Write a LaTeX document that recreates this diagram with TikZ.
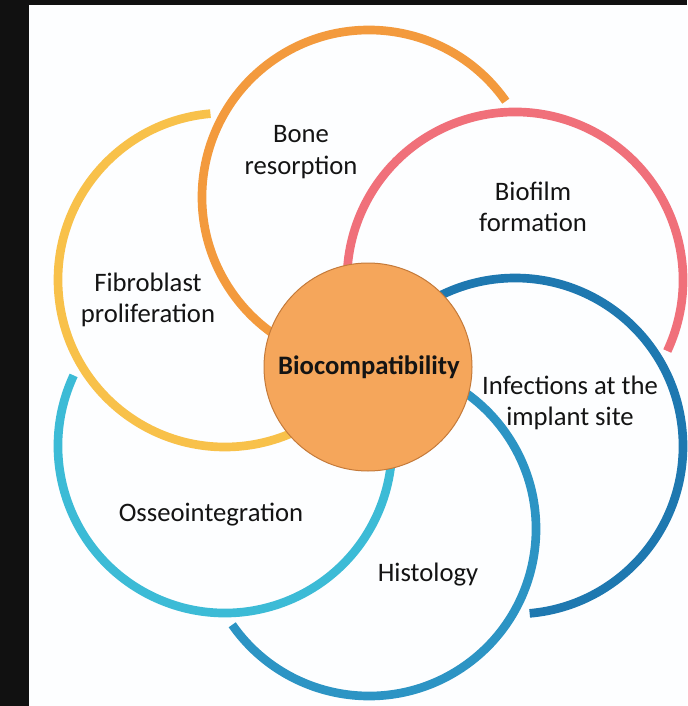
\documentclass[tikz,border=0pt]{standalone}
\usepackage{fontspec}
\setmainfont{Carlito}
\usepackage{tikz}

\begin{document}
\begin{tikzpicture}[x=0.75pt,y=0.75pt,yscale=-1,xscale=1,
  petal/.style={line width=6.5pt},
  petaltext/.style={font=\fontsize{20}{23.7}\selectfont, align=center, text={rgb, 255:red, 20; green, 20; blue, 20 }}]
%set diagram left start at 0, and has height of 706
\useasboundingbox (0,0) rectangle (687,706);

%Background and frame
\fill [color={rgb, 255:red, 253; green, 254; blue, 255 }] (0,0) rectangle (687,706);
\fill [color={rgb, 255:red, 17; green, 17; blue, 17 }] (0,0) rectangle (29,706);
\fill [color={rgb, 255:red, 17; green, 17; blue, 17 }] (0,0) rectangle (687,5);

%Shape: Arc (bone resorption)
\draw [petal, color={rgb, 255:red, 243; green, 154; blue, 61 }] (369,197) ++(-35:167) arc [start angle=-35, end angle=-270, radius=167] ;
%Shape: Arc (biofilm)
\draw [petal, color={rgb, 255:red, 240; green, 112; blue, 122 }] (515,280) ++(25:168) arc [start angle=25, end angle=-210, radius=168] ;
%Shape: Arc (infections)
\draw [petal, color={rgb, 255:red, 30; green, 120; blue, 176 }] (515,446) ++(85:168) arc [start angle=85, end angle=-150, radius=168] ;
%Shape: Arc (histology)
\draw [petal, color={rgb, 255:red, 44; green, 148; blue, 196 }] (369,529) ++(145:167) arc [start angle=145, end angle=-90, radius=167] ;
%Shape: Arc (osseointegration)
\draw [petal, color={rgb, 255:red, 60; green, 187; blue, 214 }] (225,446) ++(205:167) arc [start angle=205, end angle=-30, radius=167] ;
%Shape: Arc (fibroblast)
\draw [petal, color={rgb, 255:red, 248; green, 193; blue, 74 }] (225,280) ++(-95:167) arc [start angle=-95, end angle=-330, radius=167] ;

% Text Node
\draw  [fill={rgb, 255:red, 245; green, 166; blue, 91 }  ,fill opacity=1, draw={rgb, 255:red, 196; green, 122; blue, 58 }, line width=0.75]  (368,367) circle [x radius= 104, y radius= 104]   ;
\draw (369,367) node (bio) [petaltext] {\textbf{Biocompatibility}};
% Text Node
\draw (301,152) node (bone) [petaltext] {Bone\\resorption};
% Text Node
\draw (533,207) node (biofilm) [petaltext] {Biofilm\\formation};
% Text Node
\draw (570,403) node (infect) [petaltext] {Infections at the\\implant site};
% Text Node
\draw (428,575) node (histo) [petaltext] {Histology};
% Text Node
\draw (211,515) node (osseo) [petaltext] {Osseointegration};
% Text Node
\draw (148,300) node (fibro) [petaltext] {Fibroblast\\proliferation};

\end{tikzpicture}
\end{document}
